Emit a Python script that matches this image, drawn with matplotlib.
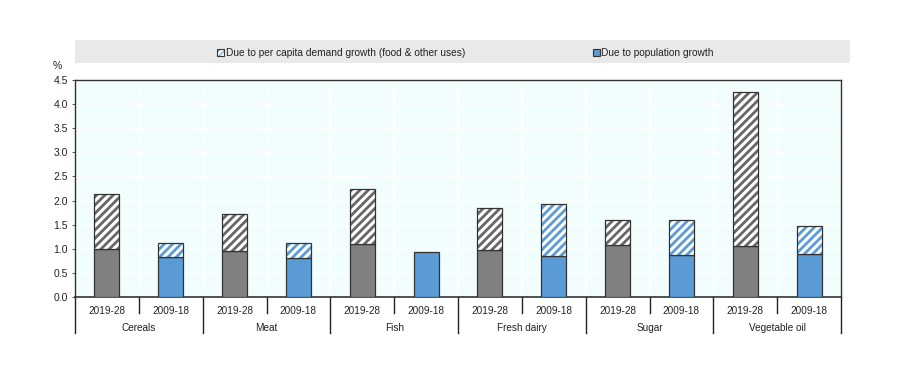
import matplotlib
matplotlib.use("Agg")
import matplotlib.pyplot as plt
from matplotlib.patches import Rectangle
from matplotlib.lines import Line2D
import numpy as np

plt.rcParams['font.family'] = ['Liberation Sans', 'DejaVu Sans']
plt.rcParams['hatch.linewidth'] = 2.0

categories = ['Cereals', 'Meat', 'Fish', 'Fresh dairy', 'Sugar', 'Vegetable oil']
periods = ['2019-28', '2009-18']
population_2019 = [1.00, 0.96, 1.10, 0.98, 1.07, 1.06]
population_2009 = [0.83, 0.80, 0.93, 0.84, 0.87, 0.89]
percapita_2019 = [1.13, 0.76, 1.13, 0.86, 0.52, 3.20]
percapita_2009 = [0.29, 0.33, 0.00, 1.08, 0.72, 0.59]
legend_labels = ['Due to per capita demand growth (food & other uses)', 'Due to population growth']
yticks = [0.0, 0.5, 1.0, 1.5, 2.0, 2.5, 3.0, 3.5, 4.0, 4.5]

grey = '#808080'
grey_hatch = '#666666'
blue = '#5b9bd5'
edge = '#333333'

fig = plt.figure(figsize=(9, 3.69), dpi=100)
fig.patch.set_facecolor('white')
W, H = 900, 369
ax = fig.add_axes([75 / W, (H - 297) / H, (841 - 75) / W, (297 - 80) / H])
ax.set_facecolor('#f2fefe')

n = len(categories)
x19 = np.arange(n) * 2 + 0.5
x09 = np.arange(n) * 2 + 1.5
bw = 0.39

def draw(xs, base, top, col, hcol):
    ax.bar(xs, base, bw, color=col, edgecolor=edge, linewidth=0.9, zorder=3)
    ax.bar(xs, top, bw, bottom=base, color='white', edgecolor=hcol, hatch='////',
           linewidth=0, zorder=3)
    for xi, b, t in zip(xs, base, top):
        if t > 0:
            ax.bar([xi], [t], bw, bottom=[b], color='none', edgecolor=edge,
                   linewidth=0.9, zorder=4)

draw(x19, population_2019, percapita_2019, grey, grey_hatch)
draw(x09, population_2009, percapita_2009, blue, blue)

ax.set_xlim(0, 2 * n)
ax.set_ylim(0, 4.5)
ax.set_yticks(yticks)
ax.set_yticklabels([f'{v:.1f}' for v in yticks], fontsize=7.5, color='#222222')
ax.tick_params(axis='y', length=2, width=0.6, pad=3, color='#333333')
ax.set_xticks([])
for v in yticks[1:]:
    ax.axhline(v, color='white', linewidth=1.0, zorder=1)
for k in range(1, 2 * n):
    ax.axvline(k, color='white', linewidth=1.0, zorder=1)
for s in ax.spines.values():
    s.set_color('#333333')
    s.set_linewidth(1.0)
ax.spines['bottom'].set_linewidth(1.2)

# x-axis labels & separators
trans = ax.get_xaxis_transform()
for i in range(n):
    ax.text(x19[i], -0.04, periods[0], transform=trans, ha='center', va='top', fontsize=7.2, color='#222222')
    ax.text(x09[i], -0.04, periods[1], transform=trans, ha='center', va='top', fontsize=7.2, color='#222222')
    ax.text(2 * i + 1, -0.12, categories[i], transform=trans, ha='center', va='top', fontsize=7.2, color='#222222')
    ax.add_line(Line2D([2 * i + 1, 2 * i + 1], [0, -0.075], transform=trans, color='#222222',
                       linewidth=1.0, clip_on=False))
for k in range(n + 1):
    ax.add_line(Line2D([2 * k, 2 * k], [0, -0.165], transform=trans, color='#222222',
                       linewidth=1.0, clip_on=False))

fig.text(62 / W, 1 - 66 / H, '%', fontsize=7.5, ha='right', va='center', color='#222222')

# legend band
fig.patches.append(Rectangle((75 / W, 1 - 63 / H), (850 - 75) / W, 23 / H,
                             transform=fig.transFigure, facecolor='#e9e9e9', edgecolor='none', zorder=0))
# legend markers
def marker(x0, face, hatch, hcol):
    fig.patches.append(Rectangle((x0 / W, 1 - 56 / H), 7 / W, 7 / H, transform=fig.transFigure,
                                 facecolor=face, edgecolor=hcol, hatch=hatch, linewidth=0, zorder=2))
    fig.patches.append(Rectangle((x0 / W, 1 - 56 / H), 7 / W, 7 / H, transform=fig.transFigure,
                                 facecolor='none', edgecolor=edge, linewidth=0.8, zorder=3))

marker(217, blue, '//////', 'white')
fig.text(226 / W, 1 - 52.5 / H, legend_labels[0], fontsize=7.3, va='center', ha='left', color='#222222')
marker(593, blue, None, edge)
fig.text(601 / W, 1 - 52.5 / H, legend_labels[1], fontsize=7.3, va='center', ha='left', color='#222222')

fig.savefig('out.png', dpi=100)
